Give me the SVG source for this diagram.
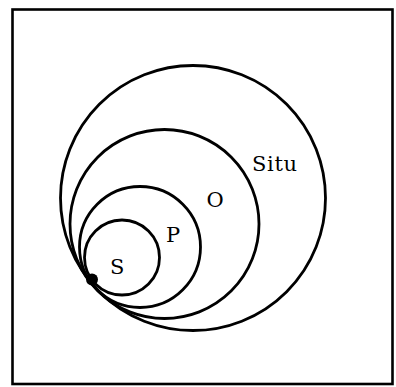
<svg xmlns="http://www.w3.org/2000/svg" width="396" height="387" viewBox="0 0 396 387">
<style>
.ring{fill:none;stroke:#000;stroke-width:2.8}
.lbl{font-family:"DejaVu Serif","Liberation Serif",serif;font-size:21px;fill:#000}
</style>
<rect x="0" y="0" width="396" height="387" fill="#fff"/>
<rect id="frame" x="12.5" y="9.5" width="380" height="374.5" fill="none" stroke="#000" stroke-width="2.6"/>
<g id="situ"><circle class="ring" cx="193" cy="198" r="132.5"/><text class="lbl" x="252" y="170.5" textLength="45">Situ</text></g>
<g id="o"><circle class="ring" cx="164.5" cy="224" r="94.5"/><text class="lbl" x="206.5" y="207">O</text></g>
<g id="p"><circle class="ring" cx="140" cy="247" r="60.5"/><text class="lbl" x="166" y="242">P</text></g>
<g id="s"><circle class="ring" cx="122" cy="257.5" r="37.5"/><text class="lbl" x="110" y="274">S</text></g>
<g id="point"><circle cx="92" cy="279.5" r="6" fill="#000"/></g>
</svg>
